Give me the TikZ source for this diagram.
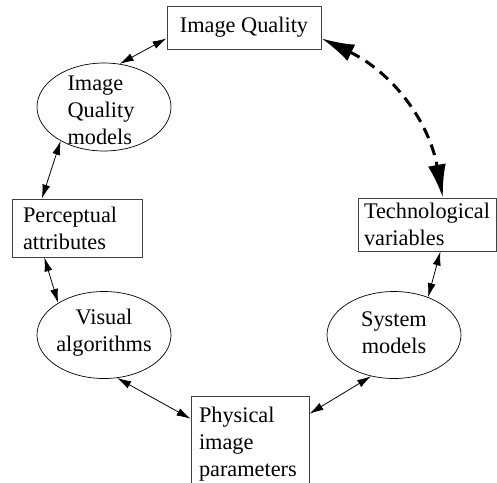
\documentclass[tikz,border=0pt]{standalone}
\usepackage{fontspec}
\setmainfont{Liberation Serif}
\usetikzlibrary{arrows.meta,shapes.geometric}
\begin{document}
\begin{tikzpicture}[x=1pt,y=-1pt,
  txt/.style={inner sep=0pt, align=center, font=\fontsize{22.3}{27}\selectfont},
  box/.style={draw=black!75, line width=0.9pt, rectangle, inner ysep=0pt, align=left,
    font=\fontsize{22.3}{27}\selectfont, execute at begin node={\hyphenpenalty=10000 }},
  oval/.style={draw, line width=0.7pt, ellipse, minimum width=134pt, minimum height=87pt, inner sep=0pt},
  link/.style={line width=0.8pt, {Latex[length=14pt,width=8pt]}-{Latex[length=14pt,width=8pt]}},
  biglink/.style={line width=3pt, dash pattern=on 11pt off 7pt,
    {Latex[length=33pt,width=18pt]}-{Latex[length=33pt,width=18pt]}}]
\clip (0,0) rectangle (497,482);
% boxes
\node[box, minimum width=154pt, minimum height=43pt] (iq) at (244,27.5) {Image Quality};
\node[box, text width=108pt, inner xsep=11pt, minimum height=58pt] (pa) at (77,228) {Perceptual\\attributes};
\node[box, text width=126.5pt, inner xsep=6pt, minimum height=53pt] (tv) at (427.25,224.5) {Technological\\variables};
\node[box, text width=102pt, inner xsep=8pt, minimum height=96pt] (pp) at (250,444) {Physical\\image\\parameters};
% ellipses
\node[oval, minimum height=88pt] (iqm) at (104,107) {};
\node[txt, align=left] (iqmt) at (101,110) {Image\\Quality\\models};
\node[oval] (va) at (104,335) {};
\node[txt] (vat) at (104,333) {Visual\\algorithms};
\node[oval] (sm) at (394,335) {};
\node[txt] (smt) at (394,333) {System\\models};
% connectors
\draw[link] (iqm.70) -- (iq.188);
\draw[link] (iqm.218) -- (pa.140);
\draw[link] (pa.222) -- (va.145);
\draw[link] (va.287) -- (pp.157);
\draw[link] (pp.27) -- (sm.241);
\draw[link] (sm.48) -- (tv.296);
\draw[biglink] (iq.352) to[bend left=27] (tv.60);
\end{tikzpicture}
\end{document}
